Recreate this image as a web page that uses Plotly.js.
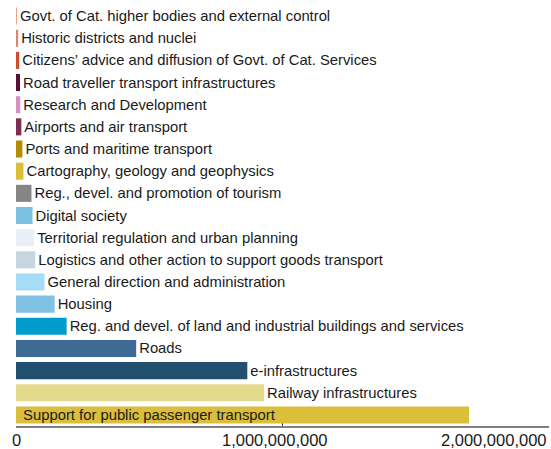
<!DOCTYPE html>
<html>
<head>
<meta charset="utf-8">
<script src="https://cdn.plot.ly/plotly-3.0.1.min.js"></script>
<style>html,body{margin:0;padding:0;background:#fff;}#chart{width:551px;height:449px;}</style>
</head>
<body>
<div id="chart"></div>
<script>
// Categories listed top to bottom
const categories = [
  "Govt. of Cat. higher bodies and external control",
  "Historic districts and nuclei",
  "Citizens’ advice and diffusion of Govt. of Cat. Services",
  "Road traveller transport infrastructures",
  "Research and Development",
  "Airports and air transport",
  "Ports and maritime transport",
  "Cartography, geology and geophysics",
  "Reg., devel. and promotion of tourism",
  "Digital society",
  "Territorial regulation and urban planning",
  "Logistics and other action to support goods transport",
  "General direction and administration",
  "Housing",
  "Reg. and devel. of land and industrial buildings and services",
  "Roads",
  "e-infrastructures",
  "Railway infrastructures",
  "Support for public passenger transport"
];
const amounts = [
  4e6, 8e6, 12e6, 15e6, 16e6, 20e6, 24e6, 28e6,
  58e6, 62e6, 68e6, 72e6, 107e6, 145e6, 190e6,
  451e6, 868e6, 931e6, 1700e6
];
const barColors = [
  "#eca48e", "#e48466", "#d24a32", "#5c1030", "#d890bc", "#7c3050",
  "#b48c00", "#dcbe38", "#858585", "#7cc0e2", "#e8eff5", "#c6d6e0",
  "#a6dcf6", "#80c2e6", "#009ccc", "#3f6a95", "#234f6e", "#e4da8c", "#dbbe3a"
];
const tickVals = [0, 1e9, 2e9];
const tickLabels = ["0", "1,000,000,000", "2,000,000,000"];

const FONT = "Arial, 'Liberation Sans', sans-serif";
const LABEL_SIZE = 14.8;

const textPos = categories.map((c, i) => i === categories.length - 1 ? "inside" : "outside");
const labelTexts = categories.map((c, i) => i === categories.length - 1 ? "\u00a0" + c : c);

const trace = {
  type: "bar",
  orientation: "h",
  y: categories,
  x: amounts,
  marker: { color: barColors, line: { width: 0 } },
  text: labelTexts,
  textposition: textPos,
  insidetextanchor: "start",
  constraintext: "none",
  cliponaxis: false,
  textfont: { family: FONT, size: LABEL_SIZE, color: "#1a1a1a" },
  insidetextfont: { family: FONT, size: LABEL_SIZE, color: "#1a1a1a" },
  outsidetextfont: { family: FONT, size: LABEL_SIZE, color: "#1a1a1a" },
  hoverinfo: "none"
};

const annotations = tickVals.map((v, i) => ({
  x: v, xref: "x",
  y: 0, yref: "paper",
  yanchor: "top",
  xanchor: i === tickVals.length - 1 ? "right" : "center",
  xshift: i === 1 ? -8 : 0,
  yshift: -3,
  text: tickLabels[i],
  showarrow: false,
  font: { family: FONT, size: 16.5, color: "#1a1a1a" }
}));

const layout = {
  width: 551, height: 449,
  margin: { l: 16, r: 2, t: 5, b: 23, pad: 0 },
  paper_bgcolor: "#fff", plot_bgcolor: "#fff",
  showlegend: false,
  bargap: 0.23,
  font: { family: FONT },
  xaxis: {
    range: [0, 2e9],
    showgrid: false, zeroline: false,
    showline: true, linecolor: "#808080", linewidth: 2,
    tickvals: tickVals, ticktext: tickLabels,
    showticklabels: false,
    ticks: "inside", ticklen: 8, tickcolor: "#333", tickwidth: 1,
    layer: "below traces",
    fixedrange: true
  },
  yaxis: {
    type: "category",
    autorange: "reversed",
    showgrid: false, zeroline: false, showline: false,
    showticklabels: false, ticks: "",
    fixedrange: true
  },
  annotations: annotations
};

Plotly.newPlot("chart", [trace], layout, { displayModeBar: false, staticPlot: true });
</script>
</body>
</html>
